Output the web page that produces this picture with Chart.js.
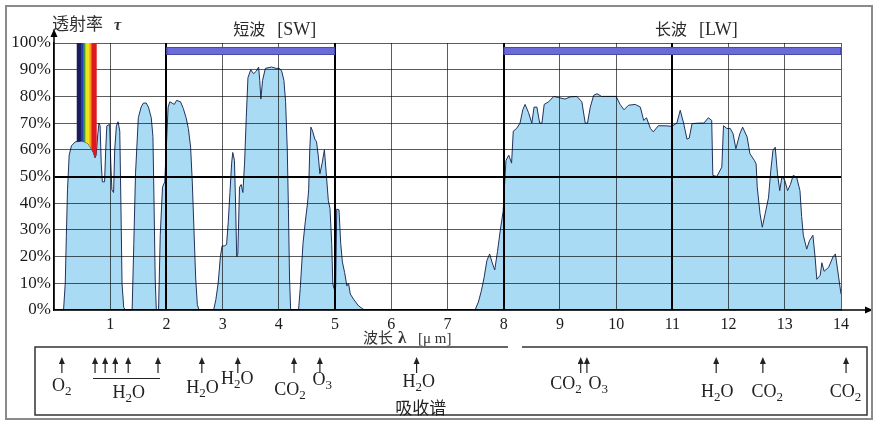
<!DOCTYPE html>
<html>
<head>
<meta charset="utf-8">
<script src="https://cdn.jsdelivr.net/npm/chart.js"></script>
<style>
html, body { margin: 0; padding: 0; background: #fff; }
canvas { display: block; }
</style>
</head>
<body>
<canvas id="chart" width="877" height="421"></canvas>
<script>
// wavelength in micrometres
const wavelengths = [
  0.17, 0.20, 0.22, 0.24, 0.27, 0.31, 0.38, 0.50, 0.60, 0.66, 0.70, 0.73, 0.75, 0.78, 0.80, 0.82, 0.84, 0.86, 0.90, 0.92,
  0.94, 0.99, 1.01, 1.03, 1.06, 1.08, 1.11, 1.14, 1.17, 1.19, 1.21, 1.24, 1.27, 1.39, 1.42, 1.45, 1.50, 1.55, 1.59, 1.64,
  1.68, 1.73, 1.76, 1.78, 1.80, 1.82, 1.86, 1.89, 1.93, 1.97, 2.00, 2.03, 2.06, 2.10, 2.14, 2.18, 2.25, 2.30, 2.35, 2.39,
  2.43, 2.46, 2.49, 2.52, 2.55, 2.58, 2.84, 2.88, 2.92, 2.96, 2.99, 3.03, 3.07, 3.10, 3.13, 3.16, 3.18, 3.21, 3.23, 3.25,
  3.27, 3.30, 3.33, 3.36, 3.39, 3.42, 3.45, 3.50, 3.55, 3.60, 3.64, 3.66, 3.68, 3.71, 3.76, 3.87, 3.95, 4.01, 4.05, 4.09,
  4.12, 4.15, 4.17, 4.19, 4.21, 4.35, 4.38, 4.43, 4.47, 4.51, 4.53, 4.55, 4.57, 4.60, 4.64, 4.67, 4.70, 4.73, 4.77, 4.81,
  4.84, 4.88, 4.91, 4.94, 4.96, 4.98, 5.01, 5.03, 5.07, 5.10, 5.13, 5.17, 5.21, 5.24, 5.27, 5.33, 5.42, 5.52,
  7.49, 7.55, 7.60, 7.65, 7.70, 7.75, 7.79, 7.84, 7.89, 7.94, 7.99, 8.01, 8.04, 8.09, 8.14, 8.17, 8.23, 8.29, 8.34, 8.38,
  8.44, 8.50, 8.54, 8.59, 8.64, 8.68, 8.72, 8.80, 8.89, 8.97, 9.09, 9.18, 9.30, 9.39, 9.45, 9.49, 9.54, 9.60, 9.66, 9.74,
  9.89, 10.00, 10.07, 10.14, 10.22, 10.34, 10.43, 10.49, 10.54, 10.61, 10.66, 10.75, 10.87, 10.99, 11.08, 11.14, 11.20, 11.26, 11.30, 11.35,
  11.47, 11.56, 11.64, 11.70, 11.72, 11.79, 11.88, 11.91, 11.97, 12.03, 12.08, 12.13, 12.20, 12.25, 12.33, 12.38, 12.46, 12.49, 12.51, 12.56,
  12.60, 12.65, 12.71, 12.75, 12.79, 12.83, 12.87, 12.91, 12.95, 13.00, 13.05, 13.10, 13.15, 13.21, 13.27, 13.30, 13.33, 13.39, 13.44, 13.50,
  13.54, 13.57, 13.63, 13.66, 13.70, 13.78, 13.86, 13.90, 13.96, 14.00, 14.04
];
// transmittance in %
const transmittance = [
  0, 10, 28, 45, 58, 61.5, 63, 63.3, 62.5, 60.5, 59, 57, 58, 66, 70, 69, 55, 48, 48, 60,
  69, 69.5, 55, 45, 44, 60, 69, 70.5, 67, 40, 10, 1, 0, 0, 25, 51, 72, 76, 77.5, 77.5,
  76, 72, 65, 40, 12, 0, 0, 28, 46, 48, 62, 76, 78, 77.5, 77, 78.5, 78, 75.5, 72, 68,
  61, 48, 30, 12, 2, 0, 0, 4, 10, 20, 24, 24, 24.5, 33, 44, 55, 59, 56, 40, 20,
  21, 46, 47, 44, 55, 72, 87, 90, 88.5, 89.5, 91, 86, 79, 86, 90.5, 91, 90.5, 90.5, 89.5, 86,
  78, 60, 38, 12, 0, 0, 8, 25, 33, 40, 45, 60, 68.5, 67, 64, 63, 58, 51, 55, 60,
  52, 41, 38, 25, 10, 8, 8.5, 37.8, 37.5, 25, 18, 14, 9, 10, 6, 4, 1.5, 0,
  0, 3, 7, 12, 18.5, 21, 18, 15, 22, 30, 37, 45, 56, 58, 55, 67, 68, 70, 75, 77,
  74, 70, 76, 76, 70, 70, 77, 78, 80, 79.6, 79, 79.8, 80, 78, 70, 70, 76, 80.4, 81, 80,
  80, 80, 77, 75, 76.7, 77, 76, 71, 72, 68, 66.7, 69, 69, 68.8, 70, 74.8, 70, 64, 64.4, 69.8,
  70, 70, 72, 71, 50.4, 50, 53.5, 69, 68, 68, 66, 60.4, 66, 68.5, 64.8, 58.5, 56, 54.7, 46, 36,
  31, 36, 42, 52, 59.8, 61, 51, 44.7, 50, 48.5, 44.7, 47, 50.4, 49.8, 44.7, 35, 28, 22.8, 26, 28,
  19.6, 11.5, 13, 17.7, 14.5, 16, 20, 21, 12, 6, 0
];

const xTickValues = [1, 2, 3, 4, 5, 6, 7, 8, 9, 10, 11, 12, 13, 14];
const heavyXLines = [2, 5, 8, 11];
const visibleRange = [0.4, 0.76];

const bandNames = ["短波", "长波"];
const bandCodes = ["[SW]", "[LW]"];
const bandStart = [2, 8];
const bandEnd = [5, 14];
const bandLevel = 97;

// absorption lines (arrows) and their labels, in micrometres
const absorbArrows = [0.14, 0.73, 0.91, 1.09, 1.32, 1.85, 2.63, 3.27, 4.27, 4.73, 6.45, 9.37, 9.48, 11.78, 12.61, 14.09];
const absorbLabels = ["O2", "H2O", "H2O", "H2O", "CO2", "O3", "H2O", "CO2", "O3", "H2O", "CO2", "CO2"];
const absorbLabelAt = [0.14, 1.33, 2.64, 3.26, 4.2, 4.77, 6.49, 9.11, 9.68, 11.8, 12.69, 14.08];

const serif = '"Liberation Serif", "DejaVu Serif", serif';
const cjk = '"Noto Sans CJK SC", sans-serif';

function curveYAt(points, px) {
  for (let i = 1; i < points.length; i++) {
    const a = points[i - 1], b = points[i];
    if (px >= a.x && px <= b.x) {
      const t = (px - a.x) / ((b.x - a.x) || 1);
      return a.y + t * (b.y - a.y);
    }
  }
  return points[points.length - 1].y;
}

function drawFormula(c, text, cx, y) {
  const parts = text.match(/[A-Za-z]+|\d+/g);
  let w = 0;
  parts.forEach(p => {
    c.font = /\d/.test(p) ? "13px " + serif : "18px " + serif;
    w += c.measureText(p).width;
  });
  let x = cx - w / 2;
  c.textAlign = "left";
  parts.forEach(p => {
    const sub = /\d/.test(p);
    c.font = sub ? "13px " + serif : "18px " + serif;
    c.fillText(p, x, sub ? y + 4 : y);
    x += c.measureText(p).width;
  });
}

function arrowUp(c, x, yTop, yBottom, head) {
  c.beginPath();
  c.moveTo(x, yBottom);
  c.lineTo(x, yTop + head);
  c.stroke();
  c.beginPath();
  c.moveTo(x, yTop);
  c.lineTo(x - head / 2, yTop + head + 1);
  c.lineTo(x + head / 2, yTop + head + 1);
  c.closePath();
  c.fill();
}

const decor = {
  id: "decor",
  afterDatasetsDraw(chart) {
    // grid (z:1) gets multiplied over the fill, like the scan
    chart.ctx.save();
    chart.ctx.globalCompositeOperation = "multiply";
  },
  afterDraw(chart) {
    const c = chart.ctx;
    c.restore();
    const xs = chart.scales.x, ys = chart.scales.y;
    const area = chart.chartArea;

    // visible light strip
    const pts = chart.getDatasetMeta(0).data.map(p => ({ x: p.x, y: p.y }));
    const xL = xs.getPixelForValue(visibleRange[0]);
    const xR = xs.getPixelForValue(visibleRange[1]);
    const yT = ys.getPixelForValue(100);
    c.save();
    c.beginPath();
    c.moveTo(xL, yT);
    c.lineTo(xR, yT);
    c.lineTo(xR, curveYAt(pts, xR));
    for (let i = pts.length - 1; i >= 0; i--) {
      if (pts[i].x > xL && pts[i].x < xR) c.lineTo(pts[i].x, pts[i].y);
    }
    c.lineTo(xL, curveYAt(pts, xL));
    c.closePath();
    c.clip();
    const cols = ["#1d1b5c", "#2540b0", "#3a9e48", "#f2e01e", "#f39a1c", "#df1a1e"];
    const share = [0.22, 0.12, 0.10, 0.20, 0.10, 0.26];
    let acc = xL;
    cols.forEach((col, i) => {
      const w = (xR - xL) * share[i];
      c.fillStyle = col;
      c.fillRect(acc, yT, w + 0.6, 300);
      acc += w;
    });
    c.restore();

    // SW / LW bars and titles
    c.save();
    bandStart.forEach((s, i) => {
      const x1 = xs.getPixelForValue(s), x2 = xs.getPixelForValue(bandEnd[i]);
      const yc = ys.getPixelForValue(bandLevel);
      c.fillStyle = "#6a6ad8";
      c.fillRect(x1, yc - 3.5, x2 - x1, 7);
      c.strokeStyle = "#4a4aa8";
      c.lineWidth = 1;
      c.strokeRect(x1 + 0.5, yc - 3.5, x2 - x1 - 1, 7);

      const center = (x1 + x2) / 2 + 24;
      c.fillStyle = "#2a2a2a";
      c.textBaseline = "alphabetic";
      c.font = "16px " + cjk;
      const wCn = c.measureText(bandNames[i]).width;
      c.font = "18px " + serif;
      const wEn = c.measureText(bandCodes[i]).width;
      const start = center - (wCn + 12 + wEn) / 2;
      c.textAlign = "left";
      c.font = "16px " + cjk;
      c.fillText(bandNames[i], start, 35);
      c.font = "18px " + serif;
      c.fillText(bandCodes[i], start + wCn + 12, 35);
    });
    c.restore();

    // axis arrows
    c.save();
    c.strokeStyle = "#000";
    c.fillStyle = "#000";
    c.lineWidth = 1.5;
    arrowUp(c, area.left, area.top - 14, area.top, 7);
    c.beginPath();
    c.moveTo(area.right, area.bottom);
    c.lineTo(area.right + 26, area.bottom);
    c.stroke();
    c.beginPath();
    c.moveTo(area.right + 32, area.bottom);
    c.lineTo(area.right + 24, area.bottom - 3.5);
    c.lineTo(area.right + 24, area.bottom + 3.5);
    c.closePath();
    c.fill();

    // y axis title
    c.fillStyle = "#333";
    c.textAlign = "left";
    c.font = "17px " + cjk;
    c.fillText("透射率", 52, 30);
    c.font = "italic bold 16px " + serif;
    c.fillText("τ", 114, 30);

    // x axis title
    c.font = "15px " + cjk;
    c.fillText("波长", 363, 343);
    c.font = "bold 17px " + serif;
    c.fillText("λ", 398, 343);
    c.font = "15px " + serif;
    c.fillText("[μ m]", 418, 343);

    // absorption box
    c.strokeStyle = "#333";
    c.lineWidth = 1.5;
    c.beginPath();
    c.moveTo(508, 347);
    c.lineTo(35, 347);
    c.lineTo(35, 415);
    c.lineTo(867, 415);
    c.lineTo(867, 347);
    c.lineTo(522, 347);
    c.stroke();

    c.lineWidth = 1.2;
    c.strokeStyle = "#222";
    c.fillStyle = "#222";
    absorbArrows.forEach(w => arrowUp(c, xs.getPixelForValue(w), 357, 373, 6));
    c.lineWidth = 1;
    c.beginPath();
    c.moveTo(xs.getPixelForValue(absorbArrows[1]) - 2, 378.5);
    c.lineTo(xs.getPixelForValue(absorbArrows[5]) + 2, 378.5);
    c.stroke();

    const labelBase = [391, 398, 393, 384, 395, 385, 387, 389, 389, 397, 397, 397];
    absorbLabels.forEach((t, i) => drawFormula(c, t, xs.getPixelForValue(absorbLabelAt[i]), labelBase[i]));
    c.font = "17px " + cjk;
    c.textAlign = "center";
    c.fillText("吸收谱", xs.getPixelForValue(absorbLabelAt[6]) + 2, 414);

    // outer frame
    c.strokeStyle = "#8a8a8a";
    c.lineWidth = 2;
    c.strokeRect(6, 6, 866, 413);
    c.restore();
  }
};

new Chart(document.getElementById("chart"), {
  type: "line",
  data: {
    datasets: [{
      data: wavelengths.map((w, i) => ({ x: w, y: transmittance[i] })),
      borderColor: "#22315c",
      borderWidth: 1,
      backgroundColor: "#a9dbf5",
      fill: "origin",
      pointRadius: 0,
      tension: 0
    }]
  },
  options: {
    responsive: false,
    animation: false,
    devicePixelRatio: 1,
    layout: { padding: { left: 0, right: 36, top: 43, bottom: 0 } },
    plugins: { legend: { display: false }, tooltip: { enabled: false } },
    scales: {
      x: {
        type: "linear",
        min: 0,
        max: 14,
        afterFit: s => { s.height = 111; },
        afterBuildTicks: s => { s.ticks = [0].concat(xTickValues).map(v => ({ value: v })); },
        ticks: {
          padding: 5,
          autoSkip: false,
          maxRotation: 0,
          color: "#1a1a1a",
          font: { family: serif, size: 16 },
          callback: v => (v === 0 ? "" : v)
        },
        grid: {
          z: 1,
          drawTicks: false,
          color: c => (heavyXLines.includes(c.tick.value) ? "#000" : "#5c5c5c"),
          lineWidth: c => (heavyXLines.includes(c.tick.value) ? 2 : 1)
        },
        border: { z: 2, color: "#000", width: 1.5 }
      },
      y: {
        min: 0,
        max: 100,
        afterFit: s => { s.width = 54; },
        ticks: {
          stepSize: 10,
          padding: 3,
          color: "#1a1a1a",
          font: { family: serif, size: 17 },
          callback: v => v + "%"
        },
        grid: {
          z: 1,
          drawTicks: false,
          color: c => (c.tick.value === 50 ? "#000" : "#5c5c5c"),
          lineWidth: c => (c.tick.value === 50 ? 2 : 1)
        },
        border: { z: 2, color: "#000", width: 1.5 }
      }
    }
  },
  plugins: [decor]
});
</script>
</body>
</html>
